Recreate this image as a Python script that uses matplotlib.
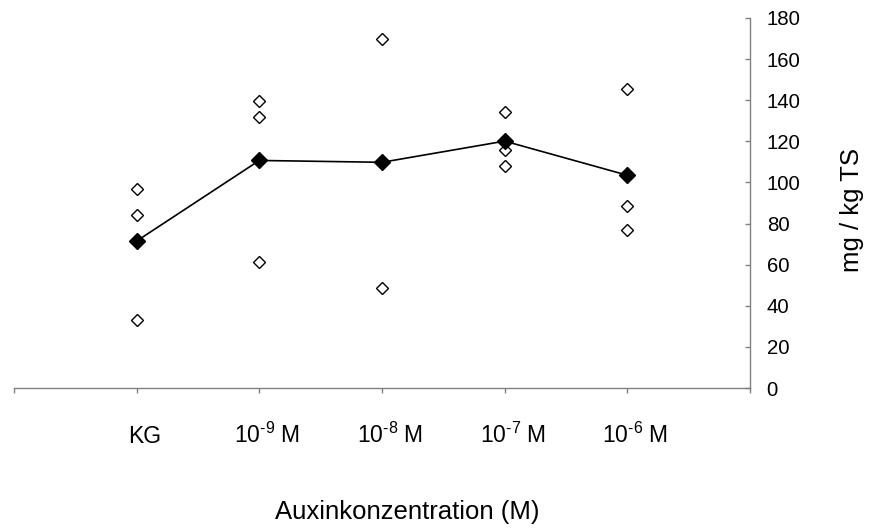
import matplotlib
matplotlib.use('Agg')
import matplotlib.pyplot as plt
import matplotlib.transforms as mtransforms

plt.rcParams['font.family'] = ['Liberation Sans', 'DejaVu Sans']
plt.rcParams['mathtext.fontset'] = 'custom'
plt.rcParams['mathtext.rm'] = 'Liberation Sans'
plt.rcParams['mathtext.it'] = 'Liberation Sans:italic'
plt.rcParams['mathtext.default'] = 'regular'

# Daten
categories = ['KG', '10$^{\\text{-9}}$ M', '10$^{\\text{-8}}$ M',
              '10$^{\\text{-7}}$ M', '10$^{\\text{-6}}$ M']
single_kg = [96.8, 84.2, 33.0]
single_e9 = [139.8, 131.7, 61.5]
single_e8 = [169.8, 48.8]
single_e7 = [134.3, 116.0, 108.0]
single_e6 = [145.3, 88.7, 76.9]
means = [71.5, 110.7, 109.8, 120.1, 103.5]

singles = [single_kg, single_e9, single_e8, single_e7, single_e6]
positions = list(range(1, len(categories) + 1))

fig = plt.figure(figsize=(8.69, 5.29), dpi=100)
ax = fig.add_axes([14 / 869, 1 - 388 / 529, 736 / 869, 370 / 529])

# Einzelwerte
for pos, vals in zip(positions, singles):
    ax.plot([pos] * len(vals), vals, linestyle='none', marker='D',
            markersize=5.8, markerfacecolor='white', markeredgecolor='black',
            markeredgewidth=1.0, zorder=2)

# Mittelwerte
ax.plot(positions, means, color='black', linewidth=1.2, marker='D',
        markersize=8, markerfacecolor='black', markeredgecolor='black', zorder=3)

ax.set_xlim(0, 6)
ax.set_ylim(0, 180)
ax.set_xticks(range(0, 7))
ax.set_xticklabels([''] + categories + [''], fontsize=16.5)
ax.set_yticks(range(0, 181, 20))

ax.yaxis.tick_right()
ax.yaxis.set_label_position('right')
for side in ['left', 'top']:
    ax.spines[side].set_visible(False)
for side in ['right', 'bottom']:
    ax.spines[side].set_color('#808080')
    ax.spines[side].set_linewidth(1.0)

ax.tick_params(axis='y', direction='in', length=3.5, width=1.0, color='#808080',
               labelsize=14.7, pad=12)
ax.tick_params(axis='x', direction='out', length=3.5, width=1.0, color='#808080',
               pad=36)
shift = mtransforms.ScaledTranslation(8 / 100, 0, fig.dpi_scale_trans)
for lbl in ax.get_xticklabels():
    lbl.set_va('baseline')
    lbl.set_transform(lbl.get_transform() + shift)

ax.set_xlabel('Auxinkonzentration (M)', fontsize=18.5, va='baseline')
ax.xaxis.set_label_coords((407 - 14) / 736, (388 - 519) / 370)
ax.set_ylabel('mg / kg TS', fontsize=18.5, va='center')
ax.yaxis.set_label_coords((852 - 14) / 736, (388 - 210) / 370)

fig.savefig('out.png', dpi=100)
